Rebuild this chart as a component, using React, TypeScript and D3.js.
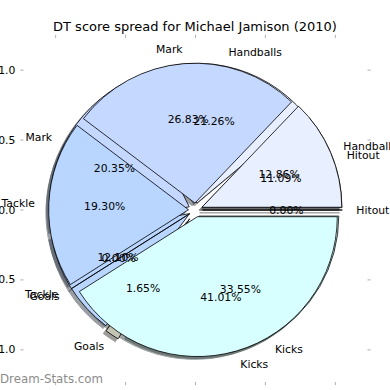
import React from 'react';
import * as d3 from 'd3';

// Pie A (drawn on top)
const categoriesA = ['Hitout', 'Handball', 'Mark', 'Tackle', 'Goals', 'Kicks'];
const valuesA = [0.0, 12.86, 26.83, 19.3, 0.0, 41.01];
const explodeA = [0.05, 0.05, 0.05, 0.05, 0.05, 0.05];

// Pie B (drawn underneath)
const categoriesB = ['Hitout', 'Handballs', 'Mark', 'Tackle', 'Goals', 'Kicks'];
const valuesB = [11.09, 21.26, 20.35, 12.1, 1.65, 33.55];
const explodeB = [0.05, 0.05, 0.05, 0.05, 0.075, 0.05];

const sliceColors = ['#e6e6e6', '#e8efff', '#c5d8ff', '#b8d6ff', '#c4c4b4', '#d8ffff'];

const tickValues = [-1.0, -0.5, 0.0, 0.5, 1.0];
const tickLabels = ['\u22121.0', '\u22120.5', '0.0', '0.5', '1.0'];

const title = 'DT score spread for Michael Jamison (2010)';
const watermark = 'Dream-Stats.com';

const FONT = 'DejaVu Sans';

export default function App() {
  const W = 390, H = 390;
  const x = d3.scaleLinear().domain([-1.23, 1.23]).range([23.5, 367.5]);
  const y = d3.scaleLinear().domain([-1.23, 1.23]).range([382, 38]);
  const R = x(1) - x(0);
  const cx = x(0), cy = y(0);

  const pie = d3
    .pie<number>()
    .sort(null)
    .value((d) => d)
    .startAngle(Math.PI / 2)
    .endAngle(Math.PI / 2 - 2 * Math.PI);
  const arc = d3.arc<any>().innerRadius(0).outerRadius(R);

  const build = (values: number[], cats: string[], explode: number[]) => {
    const total = d3.sum(values);
    return pie(values).map((a, i) => {
      const mid = (a.startAngle + a.endAngle) / 2;
      const ux = Math.sin(mid), uy = -Math.cos(mid);
      const ox = explode[i] * R * ux, oy = explode[i] * R * uy;
      const lx = cx + ox + 1.1 * R * ux, ly = cy + oy + 1.1 * R * uy;
      const px = cx + ox + 0.6 * R * ux, py = cy + oy + 0.6 * R * uy;
      return {
        path: arc(a) as string,
        ox, oy, lx, ly, px, py,
        anchor: lx - cx > 0 ? 'start' : 'end',
        label: cats[i],
        pct: d3.format('.2f')((values[i] / total) * 100) + '%',
        color: sliceColors[i],
      };
    });
  };

  const A = build(valuesA, categoriesA, explodeA);
  const B = build(valuesB, categoriesB, explodeB);

  const shadowColor = (c: string) => {
    const r = d3.rgb(c);
    return d3.rgb(r.r * 0.3, r.g * 0.3, r.b * 0.3).formatHex();
  };
  const sdx = -0.02 * R, sdy = 0.02 * R;

  const tickColor = '#b0b0b0';
  const tl = 3.2;
  const [x0, x1] = x.range();
  const [yb, yt] = y.range();

  return (
    <svg width={W} height={H} style={{ position: 'absolute', left: 0, top: 0, background: '#fff' }} fontFamily={FONT}>
      <rect x={0} y={0} width={W} height={H} fill="#fff" />
      {/* ticks */}
      <g stroke={tickColor} strokeWidth={1}>
        {tickValues.map((t, i) => (
          <g key={'t' + i}>
            <line x1={x(t)} x2={x(t)} y1={yt} y2={yt - tl} />
            <line x1={x(t)} x2={x(t)} y1={yb} y2={yb + tl} />
            <line x1={x0} x2={x0 - tl} y1={y(t)} y2={y(t)} />
            <line x1={x1} x2={x1 + tl} y1={y(t)} y2={y(t)} />
          </g>
        ))}
      </g>
      <g fontSize={10.8} fill="#000">
        {tickValues.map((t, i) => (
          <text key={'yl' + i} x={x0 - tl - 5} y={y(t)} textAnchor="end" dominantBaseline="central">
            {tickLabels[i]}
          </text>
        ))}
        {tickValues.map((t, i) => (
          <text key={'xl' + i} x={x(t)} y={yb + tl + 3.5 + 7} textAnchor="middle" dominantBaseline="central">
            {tickLabels[i]}
          </text>
        ))}
      </g>
      {/* shadows */}
      <g>
        {[...B, ...A].map((s, i) => (
          <path
            key={'s' + i}
            d={s.path}
            transform={`translate(${cx + s.ox + sdx},${cy + s.oy + sdy})`}
            fill={shadowColor(s.color)}
            stroke={shadowColor(s.color)}
            strokeWidth={1}
            opacity={0.5}
          />
        ))}
      </g>
      {/* wedges */}
      <g stroke="#000" strokeWidth={0.8} strokeLinejoin="miter">
        {B.map((s, i) => (
          <path key={'b' + i} d={s.path} transform={`translate(${cx + s.ox},${cy + s.oy})`} fill={s.color} />
        ))}
        {A.map((s, i) => (
          <path key={'a' + i} d={s.path} transform={`translate(${cx + s.ox},${cy + s.oy})`} fill={s.color} />
        ))}
      </g>
      {/* labels */}
      <g fontSize={10.8} fill="#000">
        {[...B, ...A].map((s, i) => (
          <text key={'l' + i} x={s.lx} y={s.ly} textAnchor={s.anchor} dominantBaseline="central">
            {s.label}
          </text>
        ))}
        {[...B, ...A].map((s, i) => (
          <text key={'p' + i} x={s.px} y={s.py} textAnchor="middle" dominantBaseline="central">
            {s.pct}
          </text>
        ))}
      </g>
      <text x={195} y={30.5} textAnchor="middle" fontSize={13} fill="#000">
        {title}
      </text>
      <text x={0} y={383} fontSize={11.8} fill="#8c8c8c">
        {watermark}
      </text>
    </svg>
  );
}
